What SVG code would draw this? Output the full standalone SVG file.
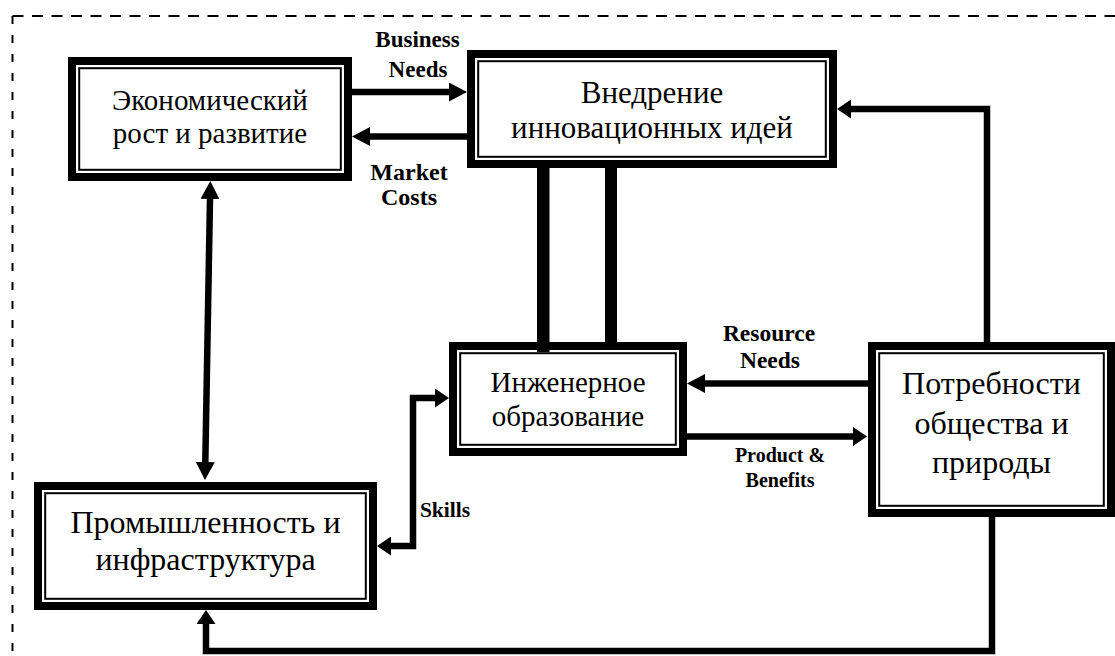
<svg xmlns="http://www.w3.org/2000/svg" width="1115" height="656" viewBox="0 0 1115 656">
<style>
.bo{fill:#fff;stroke:#000;stroke-width:8}
.bi{fill:none;stroke:#000;stroke-width:2}
.t{font-family:"Liberation Serif","Times New Roman",serif;fill:#000;text-anchor:middle}
.l{font-weight:bold}
.c{fill:none;stroke:#000;stroke-width:6.5}
.d{fill:none;stroke:#000;stroke-width:2}
</style>
<defs>
<marker id="aL" markerUnits="userSpaceOnUse" markerWidth="18" markerHeight="19" refX="0" refY="9.5" orient="auto-start-reverse" viewBox="0 0 18 19"><path d="M0,0 L18,9.5 L0,19 z" fill="#000"/></marker>
<marker id="aS" markerUnits="userSpaceOnUse" markerWidth="14" markerHeight="19" refX="0" refY="9.5" orient="auto-start-reverse" viewBox="0 0 14 19"><path d="M0,0 L14,9.5 L0,19 z" fill="#000"/></marker>
</defs>
<rect width="1115" height="656" fill="#fff"/>
<g id="frame">
<line class="d" x1="12.5" y1="16" x2="1115" y2="16" stroke-dasharray="11 8.5"/>
<line class="d" x1="12.5" y1="16" x2="12.5" y2="656" stroke-dasharray="8 11"/>
</g>
<g id="connectors">
<line class="c" x1="352" y1="92" x2="449" y2="92" marker-end="url(#aL)"/>
<line class="c" x1="467" y1="136.5" x2="370" y2="136.5" marker-end="url(#aL)"/>
<path class="c" d="M987,342 V109 H851" marker-end="url(#aS)"/>
<line class="c" x1="868" y1="383.5" x2="705" y2="383.5" marker-end="url(#aL)"/>
<line class="c" x1="687" y1="436.5" x2="853" y2="436.5" marker-end="url(#aS)"/>
<path class="c" d="M391,546 H413 V398 H435" marker-start="url(#aS)" marker-end="url(#aS)"/>
<path class="c" d="M992,517 V651 H206 V624" stroke-width="7" marker-end="url(#aS)"/>
<line class="c" x1="210" y1="199" x2="205.3" y2="462" stroke-width="6" marker-start="url(#aL)" marker-end="url(#aL)"/>
<rect x="537" y="166" width="12.5" height="180" fill="#000"/>
<rect x="605" y="166" width="12" height="178" fill="#000"/>
</g>
<g id="econ">
<rect class="bo" x="72" y="61" width="276" height="116"/>
<rect class="bi" x="79.2" y="68.2" width="261.6" height="101.6"/>
<text class="t" font-size="29" x="210" y="110">Экономический</text>
<text class="t" font-size="29" x="210" y="143">рост и развитие</text>
</g>
<g id="innov">
<rect class="bo" x="471" y="54" width="362" height="110"/>
<rect class="bi" x="478.2" y="61.2" width="347.6" height="95.6"/>
<text class="t" font-size="31" x="652" y="102.7">Внедрение</text>
<text class="t" font-size="31" x="652" y="138.3">инновационных идей</text>
</g>
<g id="eng">
<rect class="bo" x="453" y="346" width="230" height="106"/>
<rect class="bi" x="460.2" y="353.2" width="215.6" height="91.6"/>
<rect x="537" y="342" width="12.5" height="10" fill="#000"/>
<text class="t" font-size="29" x="568" y="391.7">Инженерное</text>
<text class="t" font-size="29" x="568" y="426">образование</text>
</g>
<g id="society">
<rect class="bo" x="872" y="346" width="239" height="167"/>
<rect class="bi" x="879.2" y="353.2" width="224.6" height="152.6"/>
<text class="t" font-size="32" x="991.5" y="394">Потребности</text>
<text class="t" font-size="32" x="991.5" y="433.5">общества и</text>
<text class="t" font-size="32" x="991.5" y="473">природы</text>
</g>
<g id="industry">
<rect class="bo" x="38" y="486" width="335" height="120"/>
<rect class="bi" x="45.2" y="493.2" width="320.6" height="105.6"/>
<text class="t" font-size="32" x="205.5" y="533">Промышленность и</text>
<text class="t" font-size="32" x="205.5" y="570">инфраструктура</text>
</g>
<g id="labels">
<text class="t l" font-size="23" x="417.5" y="47">Business</text>
<text class="t l" font-size="23" x="418" y="77">Needs</text>
<text class="t l" font-size="24" x="409" y="180">Market</text>
<text class="t l" font-size="24" x="409" y="205">Costs</text>
<text class="t l" font-size="23.5" x="769" y="340.7">Resource</text>
<text class="t l" font-size="23.5" x="770" y="367.7">Needs</text>
<text class="t l" font-size="20" x="780" y="461.7">Product &amp;</text>
<text class="t l" font-size="20" x="780" y="486.7">Benefits</text>
<text class="t l" font-size="21.5" x="445" y="516.7">Skills</text>
</g>
</svg>
